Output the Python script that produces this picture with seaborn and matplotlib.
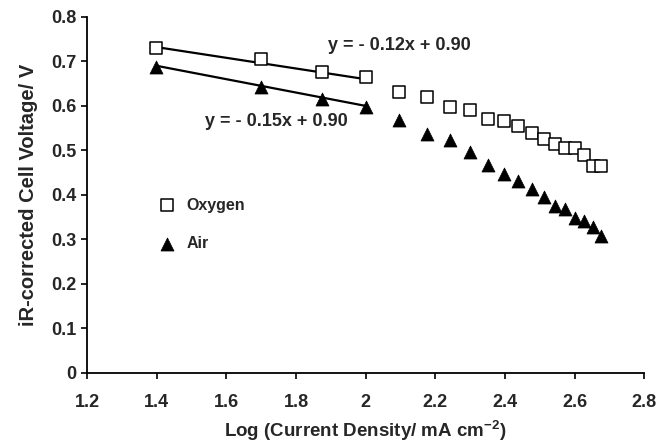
import matplotlib
matplotlib.use("Agg")
import matplotlib.pyplot as plt
import numpy as np
import pandas as pd
import seaborn as sns

# log10 of current density (mA cm^-2) for each measurement
log_current = [1.398, 1.699, 1.875, 2.000, 2.097, 2.176, 2.243, 2.301, 2.352,
               2.398, 2.439, 2.477, 2.512, 2.544, 2.574, 2.602, 2.628, 2.653, 2.677]
# iR-corrected cell voltage (V)
oxygen_v = [0.730, 0.705, 0.677, 0.666, 0.631, 0.619, 0.598, 0.591, 0.571,
            0.566, 0.554, 0.540, 0.526, 0.514, 0.506, 0.506, 0.489, 0.464, 0.464]
air_v = [0.687, 0.642, 0.615, 0.597, 0.569, 0.537, 0.524, 0.497, 0.467,
         0.447, 0.432, 0.413, 0.396, 0.376, 0.368, 0.348, 0.342, 0.328, 0.308]

# Tafel fits over the low-current region
fit_range = [1.4, 2.0]
oxygen_fit = (-0.12, 0.90)
air_fit = (-0.15, 0.90)

x_ticks = [1.2, 1.4, 1.6, 1.8, 2.0, 2.2, 2.4, 2.6, 2.8]
x_tick_labels = ["1.2", "1.4", "1.6", "1.8", "2", "2.2", "2.4", "2.6", "2.8"]
y_ticks = [0, 0.1, 0.2, 0.3, 0.4, 0.5, 0.6, 0.7, 0.8]
y_tick_labels = ["0", "0.1", "0.2", "0.3", "0.4", "0.5", "0.6", "0.7", "0.8"]

sns.set_theme(style="white")
plt.rcParams["font.family"] = ["Liberation Sans", "DejaVu Sans"]
plt.rcParams["font.weight"] = "bold"
plt.rcParams["mathtext.fontset"] = "custom"
plt.rcParams["mathtext.rm"] = "Liberation Sans:bold"
plt.rcParams["mathtext.bf"] = "Liberation Sans:bold"

df_o = pd.DataFrame({"x": log_current, "v": oxygen_v})
df_a = pd.DataFrame({"x": log_current, "v": air_v})

fx = np.array(fit_range)
df_fit_o = pd.DataFrame({"x": fx, "v": oxygen_fit[0] * fx + oxygen_fit[1]})
df_fit_a = pd.DataFrame({"x": fx, "v": air_fit[0] * fx + air_fit[1]})

fig = plt.figure(figsize=(6.6, 4.44), dpi=100)
ax = fig.add_axes([0.132, 0.16, 0.844, 0.802])

sns.lineplot(data=df_fit_o, x="x", y="v", ax=ax, color="black", lw=1.6, zorder=2)
sns.lineplot(data=df_fit_a, x="x", y="v", ax=ax, color="black", lw=1.6, zorder=2)

sns.scatterplot(data=df_o, x="x", y="v", ax=ax, marker="s", s=72,
                facecolor="white", edgecolor="black", linewidth=1.1,
                label="Oxygen", zorder=3)
sns.scatterplot(data=df_a, x="x", y="v", ax=ax, marker="^", s=88,
                color="black", edgecolor="black", linewidth=0.5,
                label="Air", zorder=3)

ax.text(1.892, 0.735, "y = - 0.12x + 0.90", fontsize=13, fontweight="bold",
        ha="left", va="center")
ax.text(1.539, 0.564, "y = - 0.15x + 0.90", fontsize=13, fontweight="bold",
        ha="left", va="center")

ax.set_xlim(1.2, 2.8)
ax.set_ylim(0, 0.8)
ax.set_xticks(x_ticks)
ax.set_xticklabels(x_tick_labels)
ax.set_yticks(y_ticks)
ax.set_yticklabels(y_tick_labels)
ax.tick_params(axis="both", which="major", labelsize=13, length=4.5, width=1.2,
               color="black", direction="out", bottom=True, left=True)
ax.tick_params(axis="x", pad=11)
ax.tick_params(axis="y", pad=3)
for lbl in ax.get_xticklabels() + ax.get_yticklabels():
    lbl.set_fontweight("bold")

for side in ["top", "right"]:
    ax.spines[side].set_visible(False)
for side in ["left", "bottom"]:
    ax.spines[side].set_color("black")
    ax.spines[side].set_linewidth(1.3)

ax.set_xlabel("Log (Current Density/ mA cm$^{\\mathbf{-2}}$)", fontsize=13.5,
              fontweight="bold")
ax.xaxis.set_label_coords(0.5, -0.128)
ax.set_ylabel("iR-corrected Cell Voltage/ V", fontsize=14.5, fontweight="bold",
              labelpad=10)

ax.legend(frameon=False, loc="center left", bbox_to_anchor=(0.129, 0.418),
          borderpad=0, borderaxespad=0, handlelength=1.0, handletextpad=0.7,
          labelspacing=1.45, prop={"size": 11.5, "weight": "bold"})

fig.savefig("out.png", dpi=100)
